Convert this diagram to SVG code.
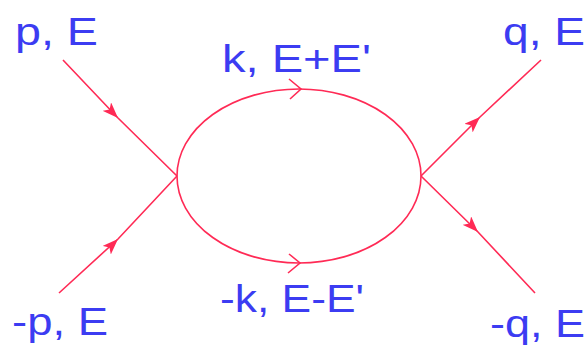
<svg xmlns="http://www.w3.org/2000/svg" width="586" height="355" viewBox="0 0 586 355">
<style>
.lbl{font-family:"Liberation Sans",Arial,sans-serif;font-size:38px;fill:#3c3cf2}
.ln{fill:none;stroke:#ff2a55;stroke-width:1.6}
</style>
<defs>
<marker id="ah" viewBox="0 0 16 12" refX="16" refY="6" markerWidth="16" markerHeight="12" markerUnits="userSpaceOnUse" orient="auto">
<path d="M0,0 L16,6 L0,12 L4,6 Z" fill="#ff2a55"/>
</marker>
</defs>
<rect width="586" height="355" fill="#fff"/>
<g id="connectors">
<path class="ln" d="M63,60 L118,118 L177,176" marker-mid="url(#ah)"/>
<path class="ln" d="M59,293 L118,239 L177,176" marker-mid="url(#ah)"/>
<path class="ln" d="M421,176 L480,117 L541,60" marker-mid="url(#ah)"/>
<path class="ln" d="M421,176 L478,232 L535,293" marker-mid="url(#ah)"/>
</g>
<g id="loop">
<ellipse class="ln" cx="299" cy="176" rx="122" ry="87"/>
<polyline class="ln" points="289,79 301,89 290,99"/>
<polyline class="ln" points="289,254 300,263 288,273"/>
</g>
<g id="labels">
<text class="lbl" x="15" y="45" textLength="83" lengthAdjust="spacingAndGlyphs">p, E</text>
<text class="lbl" x="222" y="72" textLength="149" lengthAdjust="spacingAndGlyphs">k, E+E'</text>
<text class="lbl" x="503" y="45" textLength="82" lengthAdjust="spacingAndGlyphs">q, E</text>
<text class="lbl" x="12" y="335" textLength="96" lengthAdjust="spacingAndGlyphs">-p, E</text>
<text class="lbl" x="220" y="312" textLength="144" lengthAdjust="spacingAndGlyphs">-k, E-E'</text>
<text class="lbl" x="490" y="337" textLength="95" lengthAdjust="spacingAndGlyphs">-q, E</text>
</g>
</svg>
